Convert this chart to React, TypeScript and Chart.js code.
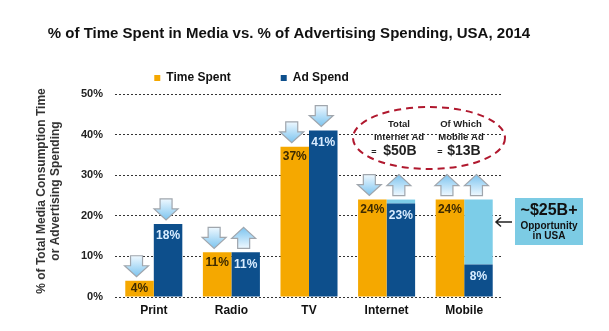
import React, { useEffect, useRef } from "react";
import { Chart, registerables } from "chart.js";

Chart.register(...registerables);

const categories = ["Print", "Radio", "TV", "Internet", "Mobile"];
const timeSpent = [4, 11, 37, 24, 24];
const adSpend = [18, 11, 41, 23, 8];
const opportunityGap = [0, 0, 0, 1, 16];
const timeArrows = ["down", "down", "down", "down", "up"];
const adArrows = ["down", "up", "down", "up", "up"];
const yTicks = [0, 10, 20, 30, 40, 50];

const titleText = "% of Time Spent in Media vs. % of Advertising Spending, USA, 2014";
const yTitle = ["% of Total Media Consumption Time", "or Advertising Spending"];

const FONT = "'Liberation Sans', Arial, sans-serif";

function drawArrow(ctx: CanvasRenderingContext2D, cx: number, bottom: number, dir: string) {
  const h = 21;
  const top = bottom - h;
  const hw = 12;
  const sw = 6;
  const shaft = 10;
  ctx.save();
  ctx.beginPath();
  if (dir === "down") {
    ctx.moveTo(cx - sw, top);
    ctx.lineTo(cx + sw, top);
    ctx.lineTo(cx + sw, top + shaft);
    ctx.lineTo(cx + hw, top + shaft);
    ctx.lineTo(cx, bottom);
    ctx.lineTo(cx - hw, top + shaft);
    ctx.lineTo(cx - sw, top + shaft);
  } else {
    ctx.moveTo(cx, top);
    ctx.lineTo(cx + hw, top + h - shaft);
    ctx.lineTo(cx + sw, top + h - shaft);
    ctx.lineTo(cx + sw, bottom);
    ctx.lineTo(cx - sw, bottom);
    ctx.lineTo(cx - sw, top + h - shaft);
    ctx.lineTo(cx - hw, top + h - shaft);
  }
  ctx.closePath();
  const g = ctx.createLinearGradient(0, top, 0, bottom);
  if (dir === "down") {
    g.addColorStop(0, "#eef8ff");
    g.addColorStop(1, "#7cc4ef");
  } else {
    g.addColorStop(0, "#7cc4ef");
    g.addColorStop(1, "#eef8ff");
  }
  ctx.fillStyle = g;
  ctx.fill();
  ctx.strokeStyle = "#a0a6ad";
  ctx.lineWidth = 1.2;
  ctx.stroke();
  ctx.restore();
}

const overlayPlugin = {
  id: "overlay",
  afterDatasetsDraw(chart: any) {
    const ctx: CanvasRenderingContext2D = chart.ctx;
    const y = chart.scales.y;
    const metaT = chart.getDatasetMeta(0);
    const metaA = chart.getDatasetMeta(1);
    ctx.save();
    ctx.font = `bold 12px ${FONT}`;
    ctx.textAlign = "center";
    ctx.textBaseline = "middle";
    categories.forEach((_, i) => {
      const bt = metaT.data[i];
      const ba = metaA.data[i];
      const base = y.getPixelForValue(0);
      const ty = Math.min(bt.y + 10, (bt.y + base) / 2);
      ctx.fillStyle = "#3d2a00";
      ctx.fillText(timeSpent[i] + "%", bt.x, ty);
      ctx.fillStyle = "#d8ecff";
      ctx.fillText(adSpend[i] + "%", ba.x, ba.y + 12);
      const tTop = y.getPixelForValue(timeSpent[i]);
      const aTop = y.getPixelForValue(adSpend[i] + opportunityGap[i]);
      drawArrow(ctx, bt.x - 3, tTop - 4, timeArrows[i]);
      drawArrow(ctx, ba.x - 2, aTop - 4, adArrows[i]);
    });
    ctx.restore();
  },
  afterDraw(chart: any) {
    const ctx: CanvasRenderingContext2D = chart.ctx;
    ctx.save();
    ctx.fillStyle = "#111";
    ctx.font = `bold 15px ${FONT}`;
    ctx.textAlign = "center";
    ctx.textBaseline = "middle";
    ctx.fillText(titleText, 289, 34);
    ctx.save();
    ctx.translate(0, 191);
    ctx.rotate(-Math.PI / 2);
    ctx.font = `bold 12px ${FONT}`;
    ctx.fillStyle = "#333";
    ctx.fillText(yTitle[0], 0, 42);
    ctx.fillText(yTitle[1], 0, 56);
    ctx.restore();
    ctx.beginPath();
    ctx.ellipse(429, 138, 76, 31, 0, 0, Math.PI * 2);
    ctx.setLineDash([7, 5]);
    ctx.strokeStyle = "#b0182e";
    ctx.lineWidth = 2;
    ctx.stroke();
    ctx.setLineDash([]);
    ctx.fillStyle = "#222";
    ctx.font = `bold 9.5px ${FONT}`;
    ctx.fillText("Total", 399, 124);
    ctx.fillText("Internet Ad", 399, 137);
    ctx.fillText("Of Which", 461, 124);
    ctx.fillText("Mobile Ad", 461, 137);
    ctx.font = `bold 14px ${FONT}`;
    ctx.fillText("$50B", 400, 151);
    ctx.fillText("$13B", 464, 151);
    ctx.font = `bold 9px ${FONT}`;
    ctx.fillText("=", 374, 153);
    ctx.fillText("=", 440, 153);
    ctx.fillStyle = "#7ccbe4";
    ctx.fillRect(515, 198, 68, 47);
    ctx.fillStyle = "#111";
    ctx.font = `bold 16px ${FONT}`;
    ctx.fillText("~$25B+", 549, 211);
    ctx.font = `bold 10px ${FONT}`;
    ctx.fillText("Opportunity", 549, 226);
    ctx.fillText("in USA", 549, 236);
    ctx.strokeStyle = "#222";
    ctx.lineWidth = 1.5;
    ctx.beginPath();
    ctx.moveTo(512, 222);
    ctx.lineTo(496, 222);
    ctx.moveTo(501, 217.5);
    ctx.lineTo(496, 222);
    ctx.lineTo(501, 226.5);
    ctx.stroke();
    ctx.restore();
  },
};

export default function App() {
  const ref = useRef<HTMLCanvasElement>(null);
  useEffect(() => {
    if (!ref.current) return;
    const chart = new Chart(ref.current, {
      type: "bar",
      data: {
        labels: categories,
        datasets: [
          { label: "Time Spent", data: timeSpent, backgroundColor: "#f5a800", stack: "time" },
          { label: "Ad Spend", data: adSpend, backgroundColor: "#0d4f8c", stack: "ad" },
          { label: "Gap", data: opportunityGap, backgroundColor: "#7ccde8", stack: "ad" },
        ],
      },
      options: {
        animation: false,
        responsive: false,
        maintainAspectRatio: false,
        layout: { padding: { left: 0, right: 106, top: 22, bottom: 0 } },
        datasets: { bar: { barPercentage: 1, categoryPercentage: 0.735 } } as any,
        plugins: {
          tooltip: { enabled: false },
          legend: {
            display: true,
            position: "top",
            labels: {
              filter: (item: any) => item.text !== "Gap",
              boxWidth: 6,
              boxHeight: 6,
              padding: 50,
              color: "#111",
              font: { family: FONT, size: 12, weight: "bold" },
            },
          },
        },
        scales: {
          x: {
            stacked: true,
            grid: { display: false, drawTicks: false },
            border: { display: false },
            ticks: { padding: 6, color: "#111", font: { family: FONT, size: 12, weight: "bold" } },
            afterFit: (s: any) => { s.height = 34; },
          },
          y: {
            stacked: true,
            min: 0,
            max: 50,
            afterBuildTicks: (s: any) => { s.ticks = yTicks.map((v) => ({ value: v })); },
            grid: { color: "#333", lineWidth: 1, drawTicks: false },
            border: { display: false, dash: [2, 2] },
            ticks: {
              padding: 12,
              color: "#222",
              font: { family: FONT, size: 11, weight: "bold" },
              callback: (v: any) => v + "%",
            },
            afterFit: (s: any) => { s.width = 115; },
          },
        },
      },
      plugins: [overlayPlugin],
    });
    return () => chart.destroy();
  }, []);
  return (
    <div style={{ position: "fixed", left: 0, top: 0, width: 609, height: 331, background: "#fff" }}>
      <canvas ref={ref} width={609} height={331} style={{ width: 609, height: 331 }} />
    </div>
  );
}
